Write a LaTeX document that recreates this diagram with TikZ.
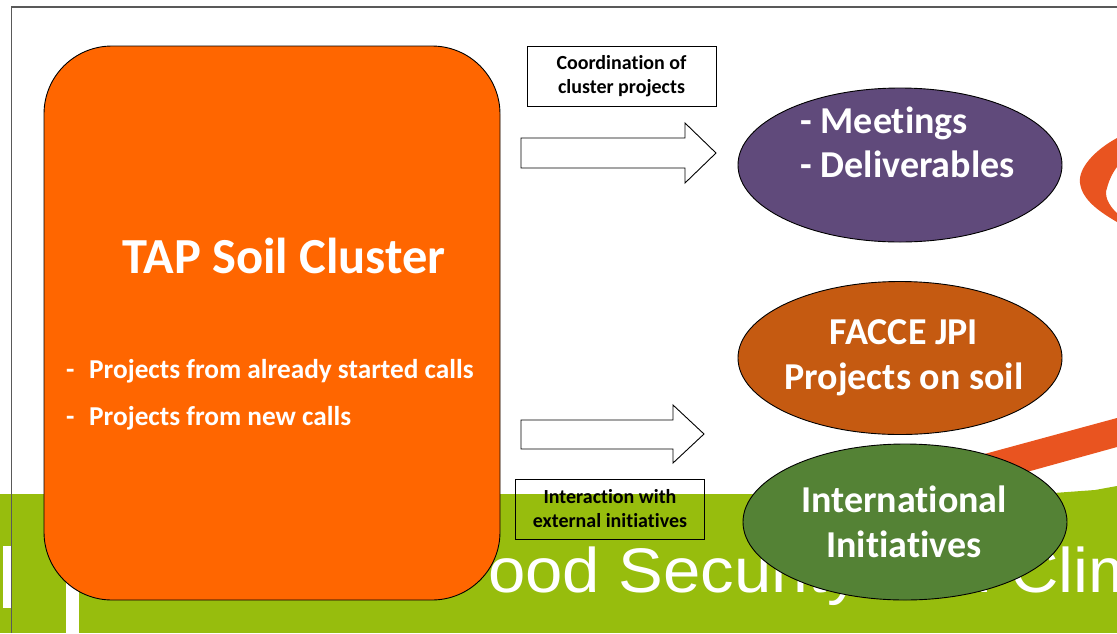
\documentclass[tikz,border=0pt]{standalone}
\usepackage{fontspec}
\setmainfont{Carlito}[Ligatures=NoCommon]
\newfontfamily\bgfont{Liberation Sans}
\usetikzlibrary{shapes.geometric}
\definecolor{bandgreen}{RGB}{151,189,13}
\definecolor{taporange}{RGB}{255,102,0}
\definecolor{purpleell}{RGB}{96,74,123}
\definecolor{brownell}{RGB}{197,90,17}
\definecolor{greenell}{RGB}{84,130,53}
\definecolor{swoosh}{RGB}{233,84,32}
\definecolor{framegray}{RGB}{89,89,89}
\tikzset{
  tapbox/.style={draw=black, line width=0.9pt, fill=taporange, rounded corners=68pt,
    minimum width=456pt, minimum height=554pt, inner sep=0pt},
  ell/.style={ellipse, draw=black, line width=0.9pt, minimum width=324pt, inner sep=0pt},
  elltext/.style={text=white, font=\bfseries\fontsize{38}{44}\selectfont},
  labelbox/.style={draw=black, line width=0.9pt, minimum width=189pt, minimum height=60pt,
    inner sep=0pt, align=center, font=\bfseries\fontsize{20}{24}\selectfont},
  blockarrow/.style={draw=black, line width=0.9pt, fill=white, line join=miter},
  bgtext/.style={text=white, inner sep=0pt, font=\bgfont\fontsize{63}{70}\selectfont},
  bullettext/.style={text=white, inner sep=0pt, font=\bfseries\fontsize{27.3}{30}\selectfont}
}
\begin{document}
\begin{tikzpicture}[x=1pt,y=-1pt]
\useasboundingbox (0,0) rectangle (1117,633);
\clip (0,0) rectangle (1117,633);
% background
\fill[white] (0,0) rectangle (1117,633);
\fill[bandgreen] (0,494) rectangle (1117,633);
\fill[bandgreen] (1040,494) -- (1095,490) -- (1117,486) -- (1117,494) -- cycle;
\fill[white] (3,546) rectangle (12,608);
\fill[white] (66,546) rectangle (79,633);
\node[bgtext, anchor=base west] (bgtitle) at (447,592) {\scalebox{1.065}[1]{Food Security and Climate Change}};
% swooshes
\fill[swoosh] (1117,138) .. controls (1095,150) and (1078,168) .. (1080,183)
  .. controls (1082,200) and (1100,212) .. (1117,222) -- (1117,213)
  .. controls (1108,205) and (1104,195) .. (1107,188)
  .. controls (1109,180) and (1113,172) .. (1117,167) -- cycle;
\fill[swoosh] (955,462) -- (1117,418) -- (1117,447) -- (1005,478) -- cycle;
% frame
\draw[framegray, line width=1.6pt] (11.5,633) -- (11.5,7) -- (1117,7);
% main box
\node[tapbox] (tap) at (272,323) {};
\node[text=white, inner sep=0pt, anchor=base, font=\bfseries\fontsize{50.5}{58}\selectfont] (taptitle) at (284,273) {TAP Soil Cluster};
\node[bullettext, anchor=base west] (bul1) at (66,378) {\makebox[23pt][l]{-}Projects from already started calls};
\node[bullettext, anchor=base west] (bul2) at (66,425) {\makebox[23pt][l]{-}Projects from new calls};
% ellipses
\node[ell, fill=purpleell, minimum height=154pt] (meet) at (900,165) {};
\node[elltext, anchor=base west] (meet1) at (797,133) {- Meetings};
\node[elltext, anchor=base west] (meet2) at (797,177) {- Deliverables};
\node[ell, fill=brownell, minimum height=153pt] (facce) at (900,358) {};
\node[elltext, anchor=base] (facce1) at (904,344) {FACCE JPI};
\node[elltext, anchor=base] (facce2) at (904,389) {Projects on soil};
\node[ell, fill=greenell, minimum height=156pt] (intl) at (905,522) {};
\node[elltext, anchor=base] (intl1) at (904,512) {International};
\node[elltext, anchor=base] (intl2) at (904,557) {Initiatives};
% label boxes
\node[labelbox, fill=white] (coord) at (621.5,76) {Coordination of\\cluster projects};
\node[labelbox] (inter) at (610,509) {Interaction with\\external initiatives};
% block arrows
\draw[blockarrow] (521,138) -- (685,138) -- (685,123) -- (716,153) -- (685,183) -- (685,168) -- (521,168) -- cycle;
\draw[blockarrow] (521,420) -- (673,420) -- (673,405) -- (704,434) -- (673,463) -- (673,449) -- (521,449) -- cycle;
\end{tikzpicture}
\end{document}
